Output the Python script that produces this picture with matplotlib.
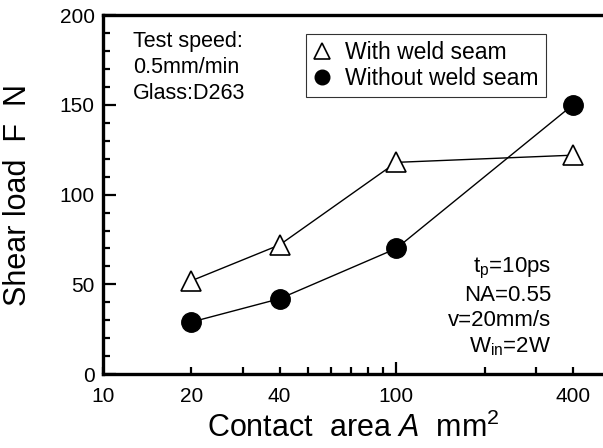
#!/usr/bin/env python3
"""Shear load vs contact area, with and without weld seam."""

import matplotlib

matplotlib.use("Agg")
import matplotlib.pyplot as plt
from matplotlib.ticker import FixedLocator, NullFormatter

plt.rcParams["font.family"] = ["Liberation Sans", "DejaVu Sans"]
plt.rcParams["mathtext.fontset"] = "custom"
plt.rcParams["mathtext.rm"] = "Liberation Sans"
plt.rcParams["mathtext.it"] = "Liberation Sans:italic"

AREA = [20, 40, 100, 400]
WITH_SEAM = [52, 72, 118, 122]
WITHOUT_SEAM = [29, 42, 70, 150]

X_TICKS = [10, 20, 40, 100, 400]
X_MINOR = [30, 50, 60, 70, 80, 90, 200, 300]
Y_TICKS = [0, 50, 100, 150, 200]

fig = plt.figure(figsize=(6.03, 4.48), dpi=100)
ax = fig.add_axes([0.171, 0.165, 0.826, 0.801])

ax.plot(AREA, WITH_SEAM, color="black", lw=1.0, marker="^", ms=15,
        mfc="white", mec="black", mew=1.2, label="With weld seam", zorder=3)
ax.plot(AREA, WITHOUT_SEAM, color="black", lw=1.0, marker="o", ms=14,
        mfc="black", mec="black", label="Without weld seam", zorder=3)

ax.set_xscale("log")
ax.set_xlim(10, 500)
ax.set_ylim(0, 200)

ax.xaxis.set_major_locator(FixedLocator(X_TICKS))
ax.xaxis.set_minor_locator(FixedLocator(X_MINOR))
ax.xaxis.set_minor_formatter(NullFormatter())
ax.set_xticklabels([str(v) for v in X_TICKS])
ax.set_yticks(Y_TICKS)
ax.yaxis.set_minor_locator(FixedLocator([v for v in range(10, 200, 10) if v % 50]))

ax.tick_params(which="both", direction="in", width=1.6, labelsize=15,
               top=False, right=False)
ax.tick_params(which="major", length=5)
ax.tick_params(axis="x", which="major", pad=9)
ax.tick_params(axis="y", which="major", pad=6)
ax.tick_params(which="minor", length=5)
ax.tick_params(axis="y", which="major", length=9)
# decade tick longer
ax.xaxis.get_major_ticks()[3].tick1line.set_markersize(9)

for side in ("left", "top", "bottom"):
    ax.spines[side].set_linewidth(2.4)
ax.spines["right"].set_visible(False)

ax.set_xlabel(r"Contact  area $\mathit{A}$  mm$^2$", fontsize=22)
ax.set_ylabel("Shear load  F  N", fontsize=22)
ax.xaxis.set_label_coords(0.502, -0.109)
ax.yaxis.set_label_coords(-0.14, 0.5)

leg = ax.legend(loc="upper left", bbox_to_anchor=(0.385, 0.98), fontsize=16.5,
                frameon=True, fancybox=False, edgecolor="black",
                handlelength=0.8, handletextpad=0.6, borderpad=0.3,
                labelspacing=0.15, markerscale=0.75)
leg.get_frame().set_linewidth(0.8)
leg.legend_handles[0].set_linestyle("none")
leg.legend_handles[1].set_linestyle("none")

ax.text(0.06, 0.955, "Test speed:\n0.5mm/min\nGlass:D263", transform=ax.transAxes,
        fontsize=15.5, ha="left", va="top", linespacing=1.3)
ax.text(0.9, 0.33, "t$_\\mathrm{p}$=10ps\nNA=0.55\nv=20mm/s\nW$_\\mathrm{in}$=2W",
        transform=ax.transAxes, fontsize=16, ha="right", va="top", linespacing=1.25)

fig.savefig("out.png", dpi=100)
